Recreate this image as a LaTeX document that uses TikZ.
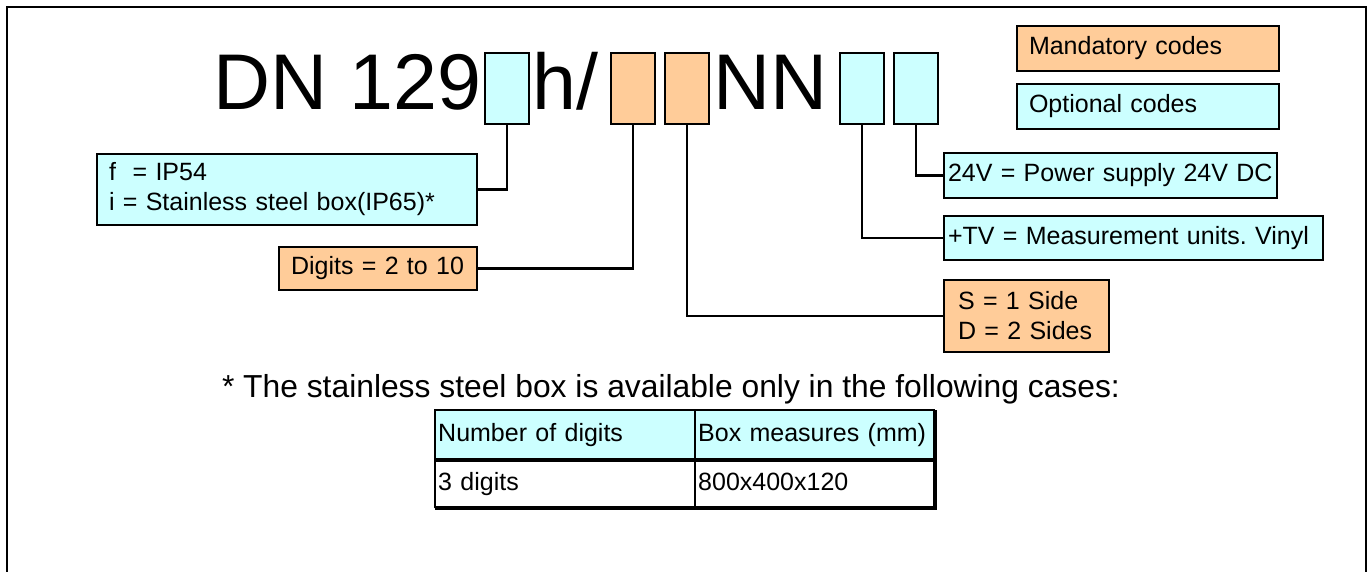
\documentclass[tikz,border=0pt]{standalone}
\usepackage{fontspec}
\setmainfont{Liberation Sans}
\usetikzlibrary{positioning}
\definecolor{optcol}{HTML}{CCFFFF}
\definecolor{mancol}{HTML}{FFCC99}
\tikzset{
	codebox/.style={draw, line width=2pt, minimum width=44pt, minimum height=71pt, inner sep=0pt, anchor=north west},
	infobox/.style={draw, line width=2pt, inner xsep=12pt, inner ysep=0pt, align=left, anchor=north west,
		font=\fontsize{25}{30}\selectfont},
	cell/.style={inner xsep=3pt, inner ysep=0pt, align=left, anchor=north west, text height=18pt, text depth=5pt,
		font=\fontsize{25}{28}\selectfont},
	link/.style={line width=2.5pt},
}
\begin{document}
\frenchspacing
\begin{tikzpicture}[x=1pt,y=-1pt]
	\useasboundingbox (0,0) rectangle (1370,572);
	\path[draw,line width=2.5pt] (7,572) -- (7,7) -- (1366,7) -- (1366,572);

	\node[anchor=base west, inner sep=0pt, font=\fontsize{79}{80}\selectfont] (dn) at (213,110) {DN 129};
	\node[codebox, fill=optcol] (c1) at (484,52) {};
	\node[anchor=base west, inner sep=0pt, font=\fontsize{79}{80}\selectfont] (h) at (532,110) {h/};
	\node[codebox, fill=mancol] (c2) at (610,52) {};
	\node[codebox, fill=mancol] (c3) at (664,52) {};
	\node[anchor=base west, inner sep=0pt, font=\fontsize{79}{80}\selectfont] (nn) at (713,110) {NN};
	\node[codebox, fill=optcol] (c4) at (839,52) {};
	\node[codebox, fill=optcol] (c5) at (893,52) {};

	\node[infobox, fill=mancol, text width=238pt, minimum height=45pt] (mand) at (1016,25) {Mandatory codes};
	\node[infobox, fill=optcol, text width=238pt, minimum height=45pt] (opt) at (1016,83) {Optional codes};

	\node[infobox, fill=optcol, text width=356pt, minimum height=71pt] (fbox) at (96,153)
		{f\ \ = IP54\\i = Stainless steel box(IP65)*};
	\node[infobox, fill=mancol, text width=174pt, minimum height=43pt] (dig) at (278,246) {Digits = 2 to 10};
	\node[infobox, fill=optcol, text width=325pt, minimum height=45pt, inner xsep=4pt] (pw) at (943,152)
		{\mbox{24V = Power supply 24V DC}};
	\node[infobox, fill=optcol, text width=371pt, minimum height=44pt, inner xsep=4pt] (tv) at (943,215)
		{\mbox{+TV = Measurement units. Vinyl}};
	\node[infobox, fill=mancol, text width=137pt, minimum height=72pt, inner xsep=14pt] (sd) at (943,279)
		{S = 1 Side\\D = 2 Sides};

	\path[draw,link] (c1.south) |- (fbox.east);
	\path[draw,link] (c2.south) |- (dig.east);
	\path[draw,link] (c3.south) |- (sd.west);
	\path[draw,link] (c4.south) |- (tv.west);
	\path[draw,link] (c5.south) |- (pw.west);

	% footnote and table
	\node[anchor=base, inner sep=0pt, font=\fontsize{31.8}{34}\selectfont] (note) at (671,397)
		{* The stainless steel box is available only in the following cases:};
	\path[fill=optcol] (435,410) rectangle (935,460);
	\node[cell, text width=254pt, minimum height=50pt] (h1) at (435,410) {Number of digits};
	\node[cell, text width=234pt, minimum height=50pt] (h2) at (695,410) {\mbox{Box measures (mm)}};
	\node[cell, text width=254pt, minimum height=48pt] (r1) at (435,460) {3 digits};
	\node[cell, text width=234pt, minimum height=48pt] (r2) at (695,460) {800x400x120};
	\path[draw,line width=2pt] (r1.south west) -- (h1.north west) -- (h2.north east);
	\path[draw,line width=2pt] (h2.north west) -- (r2.south west);
	\path[draw,line width=4pt] (h1.south west) -- (h2.south east);
	\path[draw,line width=4pt] (h2.north east) -- (r2.south east) -- (r1.south west);
\end{tikzpicture}
\end{document}
